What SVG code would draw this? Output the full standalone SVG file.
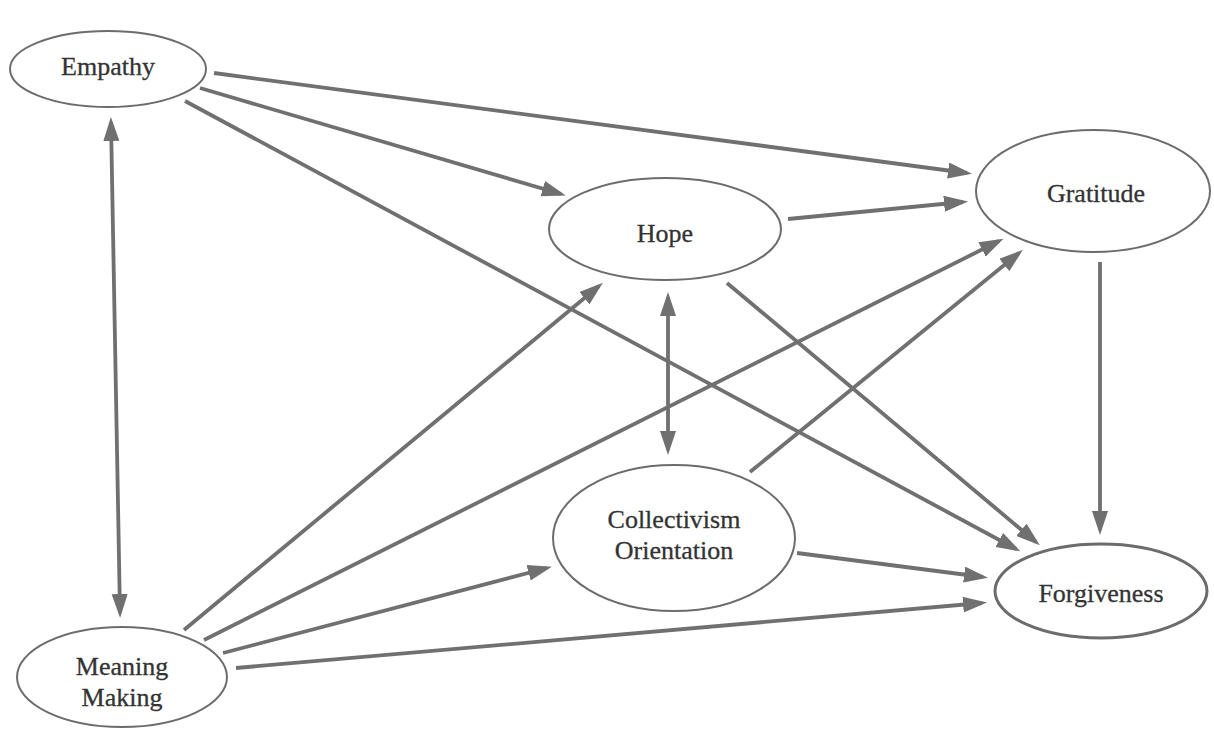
<svg xmlns="http://www.w3.org/2000/svg" width="1214" height="729" viewBox="0 0 1214 729">
  <defs>
    <style>
      .node ellipse { fill: #ffffff; stroke: #6c6c6c; stroke-width: 2; }
      .node.strong ellipse { stroke-width: 3; }
      .node text { font-family: "Liberation Serif", "Times New Roman", serif; font-size: 26px; fill: #333333; stroke: #333333; stroke-width: 0.3; text-anchor: middle; }
      .edges line { stroke: #707070; stroke-width: 3.8; fill: none; marker-end: url(#head); }
      .edges line.both { marker-start: url(#head); }
    </style>
    <marker id="head" markerUnits="userSpaceOnUse" markerWidth="26" markerHeight="18" refX="19" refY="8" orient="auto-start-reverse">
      <path d="M0,0 L24,8 L0,16 Z" fill="#707070"/>
    </marker>
  </defs>
  <rect width="1214" height="729" fill="#ffffff"/>

  <g id="connectors" class="edges">
    <!-- from Empathy -->
    <line x1="214" y1="73" x2="967" y2="173"/>
    <line x1="200" y1="88" x2="561" y2="194"/>
    <line x1="185" y1="101" x2="1016" y2="549"/>
    <!-- from Hope -->
    <line x1="788" y1="219" x2="963" y2="202"/>
    <line x1="727" y1="283" x2="1036" y2="542"/>
    <!-- from Gratitude -->
    <line x1="1100" y1="262" x2="1100" y2="530"/>
    <!-- two-way links -->
    <line class="both" x1="668" y1="297" x2="668" y2="450"/>
    <line class="both" x1="111" y1="122" x2="120" y2="613"/>
    <!-- from Meaning Making -->
    <line x1="184" y1="630" x2="599" y2="286"/>
    <line x1="204" y1="640" x2="999" y2="241"/>
    <line x1="223" y1="653" x2="547" y2="568"/>
    <line x1="236" y1="668" x2="982" y2="603"/>
    <!-- from Collectivism Orientation -->
    <line x1="797" y1="553" x2="983" y2="577"/>
    <line x1="750" y1="472" x2="1019" y2="253"/>
  </g>

  <g id="node-empathy" class="node">
    <ellipse cx="108" cy="69" rx="98" ry="38"/>
    <text x="108" y="75">Empathy</text>
  </g>
  <g id="node-hope" class="node">
    <ellipse cx="665" cy="229" rx="116" ry="51"/>
    <text x="665" y="242">Hope</text>
  </g>
  <g id="node-gratitude" class="node">
    <ellipse cx="1093" cy="191" rx="117" ry="61"/>
    <text x="1096" y="202">Gratitude</text>
  </g>
  <g id="node-collectivism" class="node">
    <ellipse cx="674" cy="538" rx="121" ry="73"/>
    <text x="674" y="528">Collectivism</text>
    <text x="674" y="559">Orientation</text>
  </g>
  <g id="node-forgiveness" class="node strong">
    <ellipse cx="1101" cy="591" rx="106" ry="47"/>
    <text x="1101" y="602">Forgiveness</text>
  </g>
  <g id="node-meaning" class="node">
    <ellipse cx="122" cy="677" rx="105" ry="50"/>
    <text x="122" y="675">Meaning</text>
    <text x="122" y="706">Making</text>
  </g>
</svg>
